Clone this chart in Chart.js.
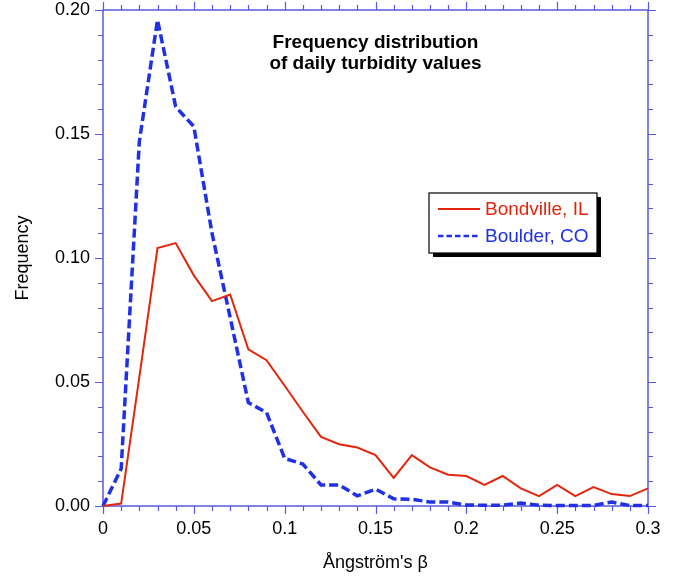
<!DOCTYPE html>
<html>
<head>
<meta charset="utf-8">
<script src="https://cdn.jsdelivr.net/npm/chart.js@4.4.1/dist/chart.umd.min.js"></script>
<style>
  html, body { margin: 0; padding: 0; background: #fff; }
  #wrap { width: 674px; height: 577px; }
</style>
</head>
<body>
<div id="wrap"><canvas id="turbidityChart"></canvas></div>
<script>
// Frequency distribution of daily turbidity values

const betaValues = [0, 0.01, 0.02, 0.03, 0.04, 0.05, 0.06, 0.07, 0.08, 0.09, 0.10,
    0.11, 0.12, 0.13, 0.14, 0.15, 0.16, 0.17, 0.18, 0.19, 0.20,
    0.21, 0.22, 0.23, 0.24, 0.25, 0.26, 0.27, 0.28, 0.29, 0.30];

const bondville = [0, 0.001, 0.052, 0.104, 0.106, 0.093, 0.0826, 0.0853, 0.0632, 0.0588, 0.0485,
    0.038, 0.0279, 0.0249, 0.0236, 0.0205, 0.0113, 0.0205, 0.0156, 0.0126, 0.0121,
    0.0085, 0.0121, 0.0071, 0.004, 0.0085, 0.004, 0.0076, 0.0048, 0.004, 0.0071];

const boulder = [0, 0.015, 0.147, 0.196, 0.161, 0.153, 0.110, 0.076, 0.0417, 0.0377, 0.0192,
    0.0169, 0.0085, 0.0085, 0.0041, 0.0068, 0.0029, 0.0027, 0.0016, 0.0016, 0.0004,
    0.0003, 0.0003, 0.0012, 0.0003, 0.0002, 0.0002, 0.0002, 0.0016, 0.0002, 0.0002];

const xTicks = [0, 0.05, 0.1, 0.15, 0.2, 0.25, 0.3];
const yTicks = [0, 0.05, 0.1, 0.15, 0.2];

const FONT = "'Liberation Sans', Arial, Helvetica, sans-serif";
const AXIS_COLOR = '#5858e0';
const RED = '#e2260c';
const BLUE = '#1f30e6';

function points(ys) {
    return betaValues.map((x, i) => ({ x: x, y: ys[i] }));
}

// frame + outward ticks on all four sides, minor every 0.01
const framePlugin = {
    id: 'frame',
    beforeDatasetsDraw(chart) {
        const { ctx, chartArea: a, scales } = chart;
        const xs = scales.x, ys = scales.y;
        ctx.save();
        ctx.strokeStyle = AXIS_COLOR;
        ctx.lineWidth = 1.5;
        ctx.strokeRect(a.left, a.top, a.right - a.left, a.bottom - a.top);
        ctx.lineWidth = 1.2;
        ctx.beginPath();
        for (let i = 0; i <= 30; i++) {
            const len = i % 5 === 0 ? 8 : 5;
            const px = Math.round(xs.getPixelForValue(i / 100)) + 0.5;
            ctx.moveTo(px, a.bottom); ctx.lineTo(px, a.bottom + len);
            ctx.moveTo(px, a.top); ctx.lineTo(px, a.top - len);
        }
        for (let i = 0; i <= 20; i++) {
            const len = i % 5 === 0 ? 8 : 5;
            const py = Math.round(ys.getPixelForValue(i / 100)) + 0.5;
            ctx.moveTo(a.left, py); ctx.lineTo(a.left - len, py);
            ctx.moveTo(a.right, py); ctx.lineTo(a.right + len, py);
        }
        ctx.stroke();
        ctx.restore();
    },
    afterDraw(chart) {
        const { ctx, chartArea: a } = chart;
        const cx = (a.left + a.right) / 2;
        ctx.save();
        // title inside the plot
        ctx.fillStyle = '#000';
        ctx.font = 'bold 19px ' + FONT;
        ctx.textAlign = 'center';
        ctx.textBaseline = 'alphabetic';
        ctx.fillText('Frequency distribution', cx, 48);
        ctx.fillText('of daily turbidity values', cx, 69);

        // legend box with drop shadow
        const bx = 429, by = 193, bw = 168, bh = 60;
        ctx.fillStyle = '#000';
        ctx.fillRect(bx + 4, by + 4, bw, bh);
        ctx.fillStyle = '#fff';
        ctx.fillRect(bx, by, bw, bh);
        ctx.strokeStyle = '#000';
        ctx.lineWidth = 1.2;
        ctx.strokeRect(bx, by, bw, bh);

        const rows = [
            { label: chart.data.datasets[0].label, color: RED, dash: [], width: 1.8, y: 209 },
            { label: chart.data.datasets[1].label, color: BLUE, dash: [5.5, 3], width: 2.6, y: 236 }
        ];
        ctx.font = '19px ' + FONT;
        ctx.textAlign = 'left';
        ctx.textBaseline = 'middle';
        rows.forEach(r => {
            ctx.beginPath();
            ctx.setLineDash(r.dash);
            ctx.strokeStyle = r.color;
            ctx.lineWidth = r.width;
            ctx.moveTo(438, r.y);
            ctx.lineTo(480, r.y);
            ctx.stroke();
            ctx.setLineDash([]);
            ctx.fillStyle = r.color;
            ctx.fillText(r.label, 485, r.y + 1);
        });
        ctx.restore();
    }
};

document.addEventListener('DOMContentLoaded', () => {
    const ctx = document.getElementById('turbidityChart').getContext('2d');
    new Chart(ctx, {
        type: 'line',
        data: {
            datasets: [{
                label: 'Bondville, IL',
                data: points(bondville),
                borderColor: RED,
                borderWidth: 2,
                pointRadius: 0,
                tension: 0,
                clip: 6
            }, {
                label: 'Boulder, CO',
                data: points(boulder),
                borderColor: BLUE,
                borderWidth: 3.5,
                borderDash: [9, 4],
                pointRadius: 0,
                tension: 0,
                clip: 6
            }]
        },
        options: {
            responsive: true,
            maintainAspectRatio: false,
            animation: false,
            layout: { padding: { top: 10, right: 26, left: 0, bottom: 0 } },
            plugins: { legend: { display: false }, tooltip: { enabled: false } },
            scales: {
                x: {
                    type: 'linear',
                    min: 0,
                    max: 0.3,
                    afterBuildTicks: s => { s.ticks = xTicks.map(v => ({ value: v })); },
                    afterFit: s => { s.height = 71; s.paddingLeft = 0; s.paddingRight = 0; },
                    grid: { display: false, drawTicks: false },
                    border: { display: false },
                    ticks: {
                        color: '#000',
                        padding: 12,
                        maxRotation: 0,
                        font: { family: FONT, size: 18 },
                        callback: v => String(+v.toFixed(2))
                    },
                    title: {
                        display: true,
                        text: "Ångström's β",
                        color: '#000',
                        font: { family: FONT, size: 18 },
                        padding: { top: 0, bottom: 3 }
                    }
                },
                y: {
                    type: 'linear',
                    min: 0,
                    max: 0.2,
                    afterBuildTicks: s => { s.ticks = yTicks.map(v => ({ value: v })); },
                    afterFit: s => { s.width = 103; s.paddingTop = 0; s.paddingBottom = 0; },
                    grid: { display: false, drawTicks: false },
                    border: { display: false },
                    ticks: {
                        color: '#000',
                        padding: 13,
                        font: { family: FONT, size: 18 },
                        callback: v => v.toFixed(2)
                    },
                    title: {
                        display: true,
                        text: 'Frequency',
                        color: '#000',
                        font: { family: FONT, size: 18 },
                        padding: { top: 12, bottom: 0 }
                    }
                }
            }
        },
        plugins: [framePlugin]
    });
});
</script>
</body>
</html>
